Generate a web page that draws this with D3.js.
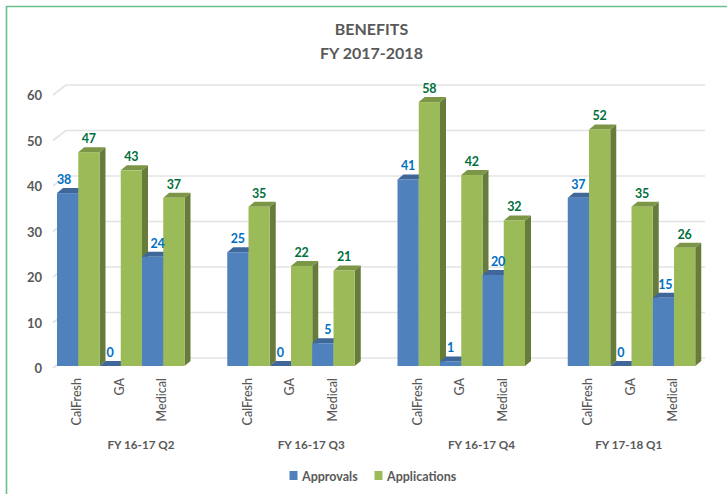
<!DOCTYPE html>
<html><head><meta charset="utf-8">
<script src="https://cdn.jsdelivr.net/npm/d3@7"></script>
<style>html,body{margin:0;padding:0;background:#fff}svg{display:block}text{font-family:Lato,"Open Sans",sans-serif}</style>
</head><body><svg id="c" width="727" height="494"></svg>
<script>
const quarters = ["FY 16-17 Q2","FY 16-17 Q3","FY 16-17 Q4","FY 17-18 Q1"];
const programs = ["CalFresh","GA","Medical"];
const approvals = [[38,0,24],[25,0,5],[41,1,20],[37,0,15]];
const applications = [[47,43,37],[35,22,21],[58,42,32],[52,35,26]];
const yTicks = [0,10,20,30,40,50,60];
const seriesNames = ["Approvals","Applications"];

const svg = d3.select("#c");
const grey = "#595959";
const blue = {front:"#4f81bd",side:"#3a6090",top:"#3f6799",label:"#0070c0"};
const green = {front:"#9bbb59",side:"#677c3a",top:"#7b9646",label:"#00703c"};

const y = d3.scaleLinear().domain([0,60]).range([366,93]);
const xGroup = d3.scaleBand().domain(quarters).range([57,738]);
const xProg = d3.scaleBand().domain(programs).range([0,127.5]);
const xSer = d3.scaleBand().domain(seriesNames).range([0,xProg.bandwidth()]);
const depthX = 6, depthY = 5;
// label shifts seen in the reference, where a label would collide with its neighbour
const labelShift = (s,j,v) => s!=="Approvals" ? 0 : v===38 ? -3.5 : j===2 ? (v===15 ? 2 : 5) : 0;

// outer frame
svg.append("path").attr("d","M6.5,494V6.5H727").attr("fill","none").attr("stroke","#68c08c").attr("stroke-width",1.6);

// title
svg.append("text").attr("x",371.5).attr("y",34.5).attr("text-anchor","middle").attr("font-size",16).attr("font-weight",700).attr("fill",grey).text("BENEFITS");
svg.append("text").attr("x",371.5).attr("y",58.5).attr("text-anchor","middle").attr("font-size",16).attr("font-weight",700).attr("fill",grey).text("FY 2017-2018");

// walls and gridlines
svg.append("g").selectAll("path").data(yTicks).join("path")
  .attr("d",v=>`M53,${y(v)+2}L66,${y(v)-8}H705`)
  .attr("fill","none").attr("stroke","#e3e3e3").attr("stroke-width",1.6);

// y labels
svg.append("g").selectAll("text").data(yTicks).join("text")
  .attr("x",42).attr("y",v=>y(v)+7).attr("text-anchor","end")
  .attr("font-size",13).attr("font-weight",700).attr("fill",grey).text(v=>v);

// bars
function bar(g,x,w,v,c){
  const t=y(v), b=y(0);
  g.append("path").attr("fill",c.side).attr("d",`M${x+w},${t}L${x+w+depthX},${t-depthY}V${b-depthY}L${x+w},${b}Z`);
  g.append("path").attr("fill",c.top).attr("d",`M${x},${t}L${x+depthX},${t-depthY}H${x+w+depthX}L${x+w},${t}Z`);
  g.append("rect").attr("fill",c.front).attr("x",x).attr("y",t).attr("width",w).attr("height",b-t);
}
const backing = svg.append("g");
const barsG = svg.append("g");
const labels = [];
quarters.forEach((q,i)=>{
  programs.forEach((p,j)=>{
    const x0 = xGroup(q)+xProg(p);
    [[approvals,blue,"Approvals"],[applications,green,"Applications"]].forEach(([arr,c,s])=>{
      const x=x0+xSer(s), w=xSer.bandwidth(), v=arr[i][j];
      if(v<=1) backing.append("rect").attr("x",x).attr("y",y(v)-20).attr("width",w).attr("height",20).attr("fill","#fff");
      bar(barsG,x,w,v,c);
      labels.push({x:x+w/2+labelShift(s,j,v),y:y(v)-9,v,c:c.label});
    });
  });
});
svg.append("g").selectAll("text").data(labels).join("text")
  .attr("x",d=>d.x).attr("y",d=>d.y).attr("text-anchor","middle")
  .attr("font-size",12.5).attr("font-weight",700).attr("fill",d=>d.c).text(d=>d.v);

// category labels
quarters.forEach(q=>{
  programs.forEach(p=>{
    const cx = xGroup(q)+xProg(p)+xProg.bandwidth()/2-2;
    svg.append("text").attr("transform",`translate(${cx+5},378) rotate(-90)`)
      .attr("text-anchor","end").attr("font-size",12.5).attr("font-weight",500).attr("fill",grey).text(p);
  });
});
quarters.forEach((q,i)=>{
  svg.append("text").attr("x",xGroup(q)+(i<3?84:61)).attr("y",449).attr("text-anchor","middle")
    .attr("font-size",11.7).attr("font-weight",700).attr("fill",grey).text(q);
});

// legend
const legendX = [289.5,374.5];
const legendTextX = [302,387];
seriesNames.forEach((s,i)=>{
  svg.append("rect").attr("x",legendX[i]).attr("y",471).attr("width",8).attr("height",9).attr("fill",[blue,green][i].front);
  svg.append("text").attr("x",legendTextX[i]).attr("y",481).attr("font-size",12.5).attr("font-weight",700).attr("fill",grey).text(s);
});
</script></body></html>
